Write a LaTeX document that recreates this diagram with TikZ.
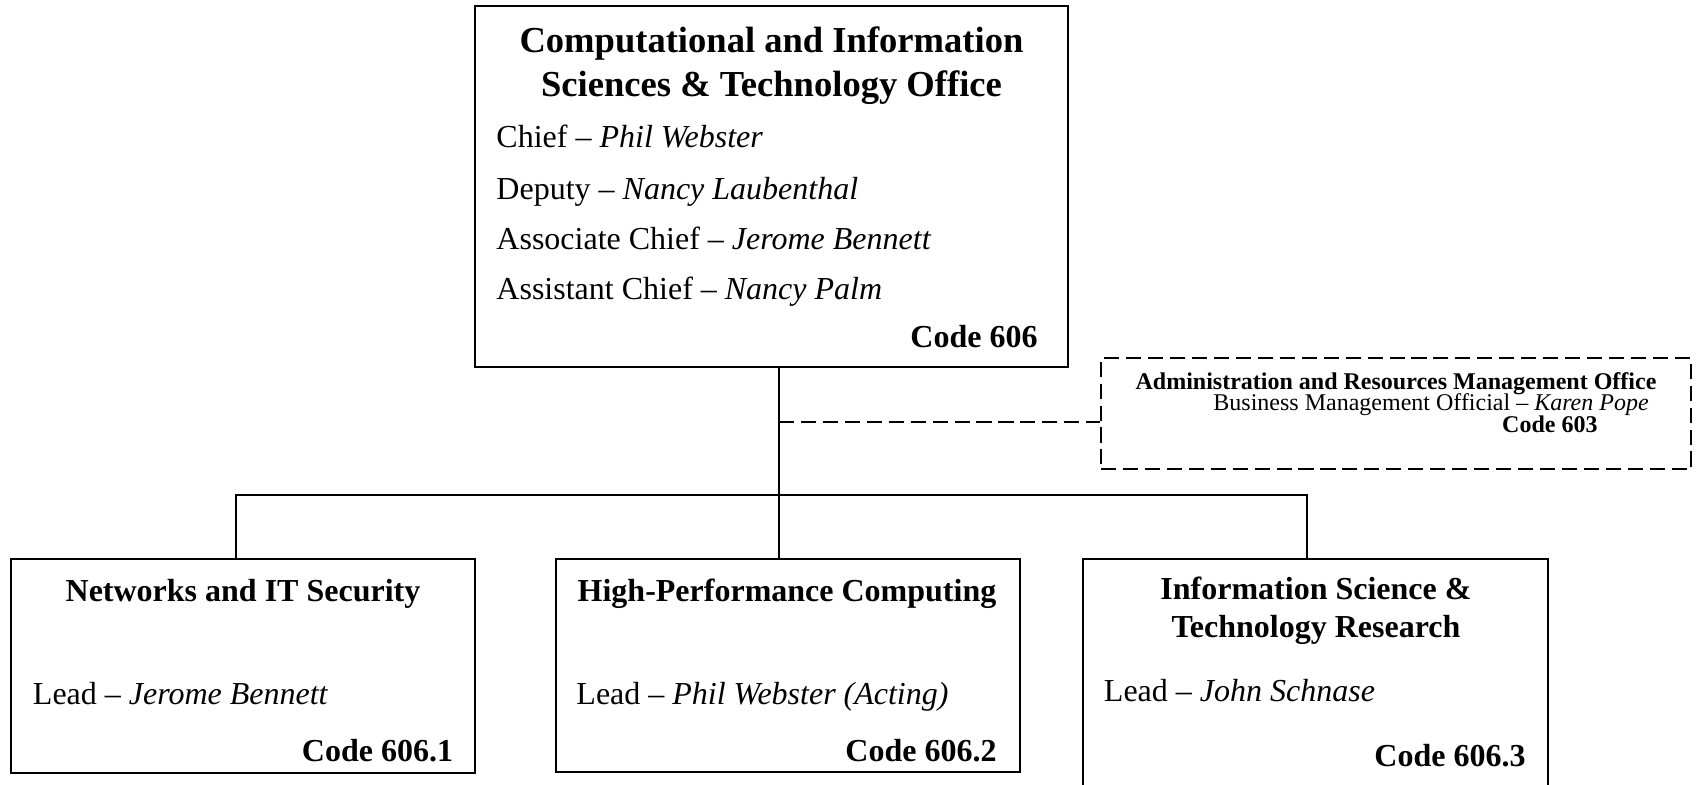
\documentclass[tikz,border=0pt]{standalone}
\usepackage{fontspec}
\setmainfont{Liberation Serif}
\usetikzlibrary{positioning}
\def\pxu{0.4375pt}
\tikzset{
  orgbox/.style={draw, line width=0.75pt, inner sep=0pt},
  adminbox/.style={draw, line width=0.85pt, dash pattern=on 6.6pt off 3pt, inner sep=0pt},
  titletxt/.style={inner sep=0pt, font=\fontsize{16}{18}\selectfont\bfseries},
  headtxt/.style={inner sep=0pt, font=\fontsize{14}{16}\selectfont\bfseries},
  bodytxt/.style={inner sep=0pt, font=\fontsize{14}{16}\selectfont},
  codetxt/.style={inner sep=0pt, font=\fontsize{14}{16}\selectfont\bfseries},
  smalltxt/.style={inner sep=0pt, font=\fontsize{10.5}{12}\selectfont},
  smallbold/.style={inner sep=0pt, font=\fontsize{10.5}{12}\selectfont\bfseries},
  link/.style={line width=0.75pt},
}
\begin{document}
\begin{tikzpicture}[x=0.4375pt, y=-0.4375pt]
  \useasboundingbox (0,0) rectangle (1696,785);
  % office
  \node[orgbox, minimum width=593*\pxu, minimum height=361*\pxu] (cisto) at (771.5,186.5) {};
  \node[titletxt, anchor=base] (cistoA) at (771.5,53) {Computational and Information};
  \node[titletxt, anchor=base] (cistoB) at (771.5,97) {Sciences \& Technology Office};
  \node[bodytxt, anchor=base west] (chief) at (496,148) {Chief -- \textit{Phil Webster}};
  \node[bodytxt, anchor=base west] (deputy) at (496,200) {Deputy -- \textit{Nancy Laubenthal}};
  \node[bodytxt, anchor=base west] (assoc) at (496,250) {Associate Chief -- \textit{Jerome Bennett}};
  \node[bodytxt, anchor=base west] (assist) at (496,300) {Assistant Chief -- \textit{Nancy Palm}};
  \node[codetxt, anchor=base east] (cistoC) at (1038,348) {Code 606};
  % admin
  \node[adminbox, minimum width=590*\pxu, minimum height=111*\pxu] (admin) at (1396,413.5) {};
  \node[smallbold, anchor=base] (adminA) at (1396,390) {Administration and Resources Management Office};
  \node[smalltxt, anchor=base west] (adminB) at (1213,411) {Business Management Official -- \textit{Karen Pope}};
  \node[smallbold, anchor=base east] (adminC) at (1598,433) {Code 603};
  % branches
  \node[orgbox, minimum width=464*\pxu, minimum height=214*\pxu] (nets) at (243,666) {};
  \node[headtxt, anchor=base] (netsA) at (243,602) {Networks and IT Security};
  \node[bodytxt, anchor=base west] (netsL) at (32.5,705) {Lead -- \textit{Jerome Bennett}};
  \node[codetxt, anchor=base east] (netsC) at (453.5,762) {Code 606.1};
  \node[orgbox, minimum width=464*\pxu, minimum height=213*\pxu] (hpc) at (788,665.5) {};
  \node[headtxt, anchor=base] (hpcA) at (787,602) {High-Performance Computing};
  \node[bodytxt, anchor=base west] (hpcL) at (576,705) {Lead -- \textit{Phil Webster (Acting)}};
  \node[codetxt, anchor=base east] (hpcC) at (997,762) {Code 606.2};
  \node[orgbox, minimum width=465*\pxu, minimum height=236*\pxu] (istr) at (1315.5,677) {};
  \node[headtxt, anchor=base] (istrA) at (1316,600) {Information Science \&};
  \node[headtxt, anchor=base] (istrB) at (1316,638) {Technology Research};
  \node[bodytxt, anchor=base west] (istrL) at (1103.5,702) {Lead -- \textit{John Schnase}};
  \node[codetxt, anchor=base east] (istrC) at (1526,767) {Code 606.3};
  % lines
  \coordinate (hub) at (779,495);
  \coordinate (busL) at (236,495);
  \coordinate (busR) at (1307,495);
  \coordinate (tap) at (779,422);
  \draw[link] (hub |- cisto.south) -- (hub |- hpc.north);
  \draw[link] (busL |- nets.north) -- (busL) -- (busR) -- (busR |- istr.north);
  \draw[line width=0.85pt, dash pattern=on 6.6pt off 3pt] (tap) -- (tap -| admin.west);
\end{tikzpicture}
\end{document}
